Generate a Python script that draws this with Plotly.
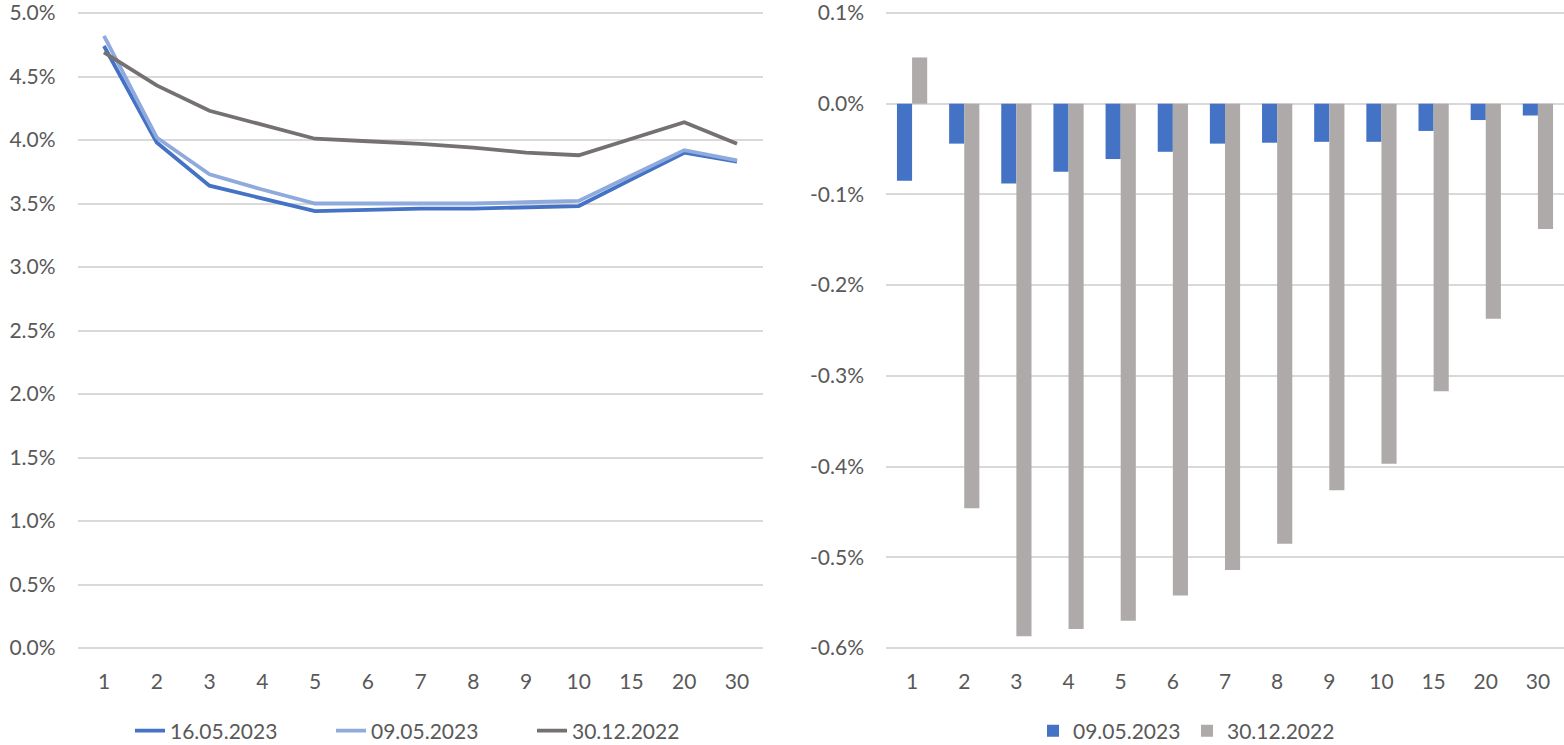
import plotly.graph_objects as go

# Maturities (years) shared by both panels
maturities = ["1", "2", "3", "4", "5", "6", "7", "8", "9", "10", "15", "20", "30"]

# Yield curves, %
curve_16_05_2023 = [4.74, 3.98, 3.64, 3.54, 3.44, 3.45, 3.46, 3.46, 3.47, 3.48, 3.69, 3.90, 3.83]
curve_09_05_2023 = [4.82, 4.02, 3.73, 3.61, 3.50, 3.50, 3.50, 3.50, 3.51, 3.52, 3.72, 3.92, 3.84]
curve_30_12_2022 = [4.69, 4.43, 4.23, 4.12, 4.01, 3.99, 3.97, 3.94, 3.90, 3.88, 4.01, 4.14, 3.97]

# Change of the latest curve versus earlier dates, percentage points
change_vs_09_05_2023 = [-0.085, -0.044, -0.088, -0.075, -0.061, -0.053, -0.044, -0.043, -0.042, -0.042, -0.030, -0.018, -0.013]
change_vs_30_12_2022 = [0.051, -0.446, -0.587, -0.579, -0.570, -0.542, -0.514, -0.485, -0.426, -0.397, -0.317, -0.237, -0.138]

left_ticks = [0.0, 0.5, 1.0, 1.5, 2.0, 2.5, 3.0, 3.5, 4.0, 4.5, 5.0]
right_ticks = [-0.6, -0.5, -0.4, -0.3, -0.2, -0.1, 0.0, 0.1]

W, H = 1564, 745
MB = 40  # bottom margin keeps the legends from pushing the plot area
FONT = "Lato"
TEXT = "#595959"
GRID = "#d9d9d9"

# pixel rows of the outer gridlines and columns of the plot areas
TOP_PX, BOT_PX, PAD_PX = 13.0, 648.0, 2.0
LEFT_X = (77.6, 763.4)
RIGHT_X = (886.0, 1564.0)

fig = go.Figure()

line_series = [
    ("16.05.2023", curve_16_05_2023, "#4472C4"),
    ("09.05.2023", curve_09_05_2023, "#8FAADC"),
    ("30.12.2022", curve_30_12_2022, "#767171"),
]
for name, ys, color in line_series:
    fig.add_trace(go.Scatter(
        x=maturities, y=ys, name=name, mode="lines",
        line=dict(color=color, width=3.8),
        xaxis="x", yaxis="y", legend="legend",
    ))

bar_series = [
    ("09.05.2023", change_vs_09_05_2023, "#4472C4"),
    ("30.12.2022", change_vs_30_12_2022, "#AEAAAA"),
]
for name, ys, color in bar_series:
    fig.add_trace(go.Bar(
        x=maturities, y=ys, name=name, marker=dict(color=color, line=dict(width=0)),
        xaxis="x2", yaxis="y2", legend="legend2",
    ))


def px_x(p):
    return p / W


def px_y(p):
    return (H - MB - p) / (H - MB)


def padded_range(lo, hi):
    per_px = (hi - lo) / (BOT_PX - TOP_PX)
    return [lo - PAD_PX * per_px, hi + PAD_PX * per_px]


y_domain = [px_y(BOT_PX + PAD_PX), px_y(TOP_PX - PAD_PX)]

n_cat = len(maturities)
tickfont = dict(family=FONT, size=21, color=TEXT)
common_x = dict(type="category", range=[-0.5, n_cat - 0.5], showgrid=False,
                zeroline=False, showline=False, ticks="", tickfont=tickfont,
                ticklabelstandoff=17, automargin=False, fixedrange=True)
common_y = dict(showgrid=True, gridcolor=GRID, gridwidth=1.5, zeroline=False,
                showline=False, ticks="", tickfont=tickfont, ticklabelstandoff=21,
                ticklabeloverflow="allow", automargin=False, fixedrange=True)

legend_font = dict(family=FONT, size=21, color=TEXT)

fig.update_layout(
    width=W, height=H,
    margin=dict(l=0, r=0, t=0, b=MB, autoexpand=False),
    paper_bgcolor="white", plot_bgcolor="white",
    font=dict(family=FONT, color=TEXT),
    barmode="group", bargap=0.42, bargroupgap=0.0,
    xaxis=dict(domain=[px_x(LEFT_X[0]), px_x(LEFT_X[1])], anchor="y", **common_x),
    yaxis=dict(domain=y_domain, anchor="x", range=padded_range(0.0, 5.0),
               tickvals=left_ticks, ticktext=[f"{v:.1f}%" for v in left_ticks], **common_y),
    xaxis2=dict(domain=[px_x(RIGHT_X[0]), px_x(RIGHT_X[1])], anchor="y2", **common_x),
    yaxis2=dict(domain=y_domain, anchor="x2", range=padded_range(-0.6, 0.1),
                tickvals=right_ticks,
                ticktext=[("-" if v < -1e-9 else "") + f"{abs(v):.1f}%" for v in right_ticks],
                **common_y),
    legend=dict(orientation="h", x=px_x(130), y=px_y(731), xanchor="left", yanchor="middle",
                font=legend_font, entrywidth=156, entrywidthmode="pixels",
                bgcolor="rgba(0,0,0,0)", itemclick=False, itemdoubleclick=False),
    legend2=dict(orientation="h", x=px_x(1033), y=px_y(731), xanchor="left", yanchor="middle",
                 font=legend_font, entrywidth=109, entrywidthmode="pixels",
                 bgcolor="rgba(0,0,0,0)", itemclick=False, itemdoubleclick=False),
)

fig.write_html("out.html")
